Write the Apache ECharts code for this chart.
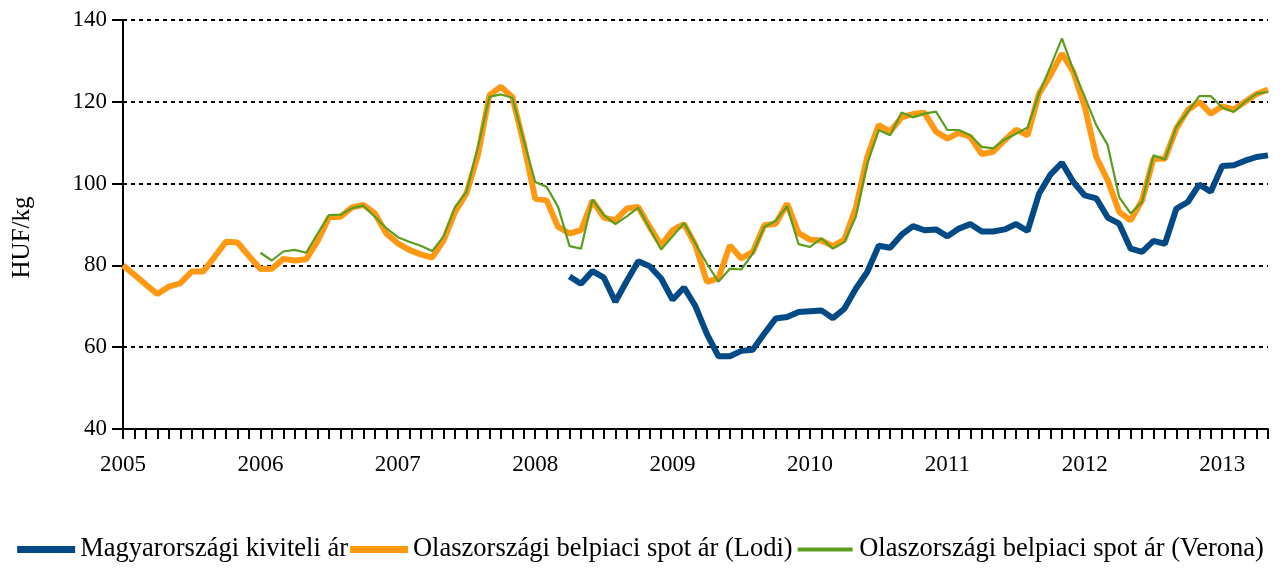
<!DOCTYPE html>
<html>
<head>
<meta charset="utf-8">
<script src="https://cdn.jsdelivr.net/npm/echarts@6/dist/echarts.min.js"></script>
<style>
html,body{margin:0;padding:0;background:#fff;}
#chart{width:1281px;height:568px;}
</style>
</head>
<body>
<div id="chart"></div>
<script>
var years = ['2005','2006','2007','2008','2009','2010','2011','2012','2013'];
var months = ['01','02','03','04','05','06','07','08','09','10','11','12'];
var lastYearMonths = 5;

var seriesNames = ['Magyarországi kiviteli ár','Olaszországi belpiaci spot ár (Lodi)','Olaszországi belpiaci spot ár (Verona)'];

var hungaryExport = [null,null,null,null,null,null,null,null,null,null,null,null,
 null,null,null,null,null,null,null,null,null,null,null,null,
 null,null,null,null,null,null,null,null,null,null,null,null,
 null,null,null,77.3,75.5,78.6,77.0,71.1,76.2,81.0,79.8,76.8,
 71.6,74.6,70.0,63.2,57.8,57.8,59.1,59.4,63.3,67.0,67.4,68.6,
 68.8,69.0,67.1,69.4,74.3,78.4,84.8,84.3,87.5,89.6,88.6,88.8,
 87.1,89.0,90.1,88.3,88.3,88.8,90.1,88.4,97.5,102.2,105.1,100.4,
 97.1,96.4,91.7,90.2,84.1,83.3,86.0,85.3,93.9,95.5,99.8,98.0,
 104.3,104.5,105.6,106.5,106.9];

var lodiSpot = [80.0,77.7,75.3,73.0,74.8,75.6,78.5,78.5,82.1,85.8,85.6,82.3,
 79.1,79.2,81.6,81.2,81.5,86.0,91.8,91.9,94.2,94.8,92.7,87.8,
 85.4,83.8,82.7,81.9,86.1,93.1,97.6,107.0,121.6,123.7,121.2,109.8,
 96.3,95.9,89.4,87.8,88.6,95.8,91.7,91.0,93.9,94.3,89.4,84.9,
 88.6,90.1,84.9,76.0,76.8,84.9,81.7,83.3,89.8,90.2,95.1,87.9,
 86.3,86.1,84.7,86.3,94.0,106.5,114.3,112.7,116.2,117.0,117.3,112.7,
 111.0,112.4,111.4,107.2,107.8,110.6,113.2,111.8,122.0,126.5,131.8,127.3,
 118.8,106.5,100.8,93.1,91.0,95.9,106.1,106.1,113.5,118.0,120.0,117.1,
 118.9,118.1,120.0,121.9,123.0];

var veronaSpot = [null,null,null,null,null,null,null,null,null,null,null,null,
 83.1,81.2,83.4,83.8,83.1,87.8,92.3,92.4,94.0,94.6,91.9,89.1,
 86.9,85.8,84.8,83.5,87.1,94.3,98.0,109.0,121.2,121.8,121.0,110.6,
 100.4,99.2,94.3,84.7,84.1,96.1,92.3,90.1,92.0,94.1,89.0,83.9,
 87.1,90.4,85.3,80.4,76.0,79.2,79.0,82.9,89.4,90.9,94.5,85.2,
 84.5,86.6,84.1,85.7,91.9,104.9,113.1,111.8,117.4,116.2,117.1,117.6,
 113.1,113.1,111.8,109.0,108.6,110.8,112.2,113.7,122.0,128.6,135.5,127.8,
 121.2,114.3,109.4,96.7,92.7,95.5,106.9,105.9,113.9,117.6,121.4,121.4,
 118.6,117.5,120.0,122.0,122.4];

var categories = [];
years.forEach(function(y, yi){
  var n = (yi === years.length - 1) ? lastYearMonths : 12;
  for (var m = 0; m < n; m++) categories.push(y + '-' + months[m]);
});

var colors = ['#024A86', '#FF9914', '#5B9E1F'];
var FONT = 'Liberation Serif';
var chart = echarts.init(document.getElementById('chart'), null, {renderer:'canvas'});
chart.setOption({
  animation: false,
  backgroundColor: '#ffffff',
  grid: {left: 123, right: 13, top: 20, bottom: 139, containLabel: false},
  xAxis: {
    type: 'category',
    data: categories,
    boundaryGap: false,
    axisLine: {lineStyle: {color: '#000', width: 2}},
    axisTick: {show: true, interval: 0, length: 10, lineStyle: {color: '#000', width: 2}},
    axisLabel: {
      interval: 11,
      margin: 24,
      color: '#000',
      fontFamily: FONT,
      fontSize: 23,
      formatter: function(v){ return v.slice(0,4); }
    },
    splitLine: {show: false}
  },
  yAxis: {
    type: 'value',
    min: 40, max: 140, interval: 20,
    name: 'HUF/kg',
    nameLocation: 'middle',
    nameRotate: 90,
    nameGap: 88,
    nameTextStyle: {color: '#000', fontFamily: FONT, fontSize: 25, padding: [0, 26, 0, 0]},
    axisLine: {show: true, lineStyle: {color: '#000', width: 2}},
    axisTick: {show: true, length: 11, lineStyle: {color: '#000', width: 2}},
    axisLabel: {color: '#000', fontFamily: FONT, fontSize: 23, margin: 16},
    splitLine: {show: true, lineStyle: {color: '#000', type: [4, 4], width: 2}}
  },
  legend: {
    bottom: 0,
    left: 'center',
    itemGap: 2,
    itemWidth: 58,
    itemHeight: 7,
    icon: 'rect',
    textStyle: {color: '#000', fontFamily: FONT, fontSize: 26.5},
    data: [
      {name: seriesNames[0], icon: 'rect'},
      {name: seriesNames[1], icon: 'rect'},
      {name: seriesNames[2], icon: 'rect', itemStyle: {color: colors[2], borderColor: '#ffffff', borderWidth: 3}}
    ]
  },
  series: [
    {name: seriesNames[0], type: 'line', data: hungaryExport, symbol: 'none', connectNulls: false,
     lineStyle: {color: colors[0], width: 6}, itemStyle: {color: colors[0]}},
    {name: seriesNames[1], type: 'line', data: lodiSpot, symbol: 'none',
     lineStyle: {color: colors[1], width: 6}, itemStyle: {color: colors[1]}},
    {name: seriesNames[2], type: 'line', data: veronaSpot, symbol: 'none',
     lineStyle: {color: colors[2], width: 2.2}, itemStyle: {color: colors[2]}}
  ]
});
</script>
</body>
</html>
